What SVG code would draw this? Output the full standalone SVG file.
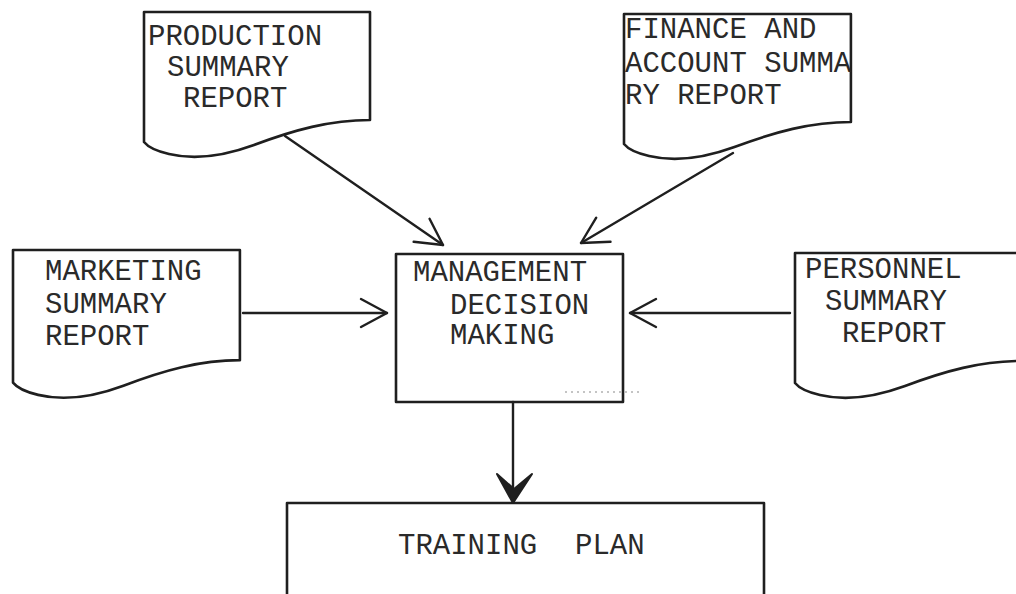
<svg xmlns="http://www.w3.org/2000/svg" width="1016" height="594" viewBox="0 0 1016 594">
  <style>
    .shape { fill: none; stroke: #1f1f1f; stroke-width: 2.6; stroke-linejoin: round; }
    .lbl { font-family: "Liberation Mono", "DejaVu Sans Mono", monospace; font-size: 29px; fill: #2a2a2a; }
    .wire { fill: none; stroke: #1f1f1f; stroke-width: 2.4; stroke-linecap: round; }
  </style>
  <defs>
    <!-- document symbol: flat top, wavy bottom, 226 wide -->
    <path id="doc" d="M0,0 H226 V108 C186,108 150,118 110,133 C80,144 50,148 25,142 C12,139 4,135 0,130 Z"/>
    <marker id="vee" markerUnits="userSpaceOnUse" viewBox="-30 -20 40 40" markerWidth="40" markerHeight="40" refX="0" refY="0" orient="auto" overflow="visible">
      <path d="M-26,-14 L0,0 L-26,14" fill="none" stroke="#1f1f1f" stroke-width="2.4" stroke-linecap="round" stroke-linejoin="round"/>
    </marker>
  </defs>

  <rect width="1016" height="594" fill="#ffffff"/>

  <g id="production">
    <use href="#doc" class="shape" transform="translate(144,12)"/>
    <text class="lbl" x="148" y="45">PRODUCTION</text>
    <text class="lbl" x="167" y="76">SUMMARY</text>
    <text class="lbl" x="183" y="107">REPORT</text>
  </g>

  <g id="finance">
    <use href="#doc" class="shape" transform="translate(624,14) scale(1.004,1)"/>
    <text class="lbl" x="625" y="38">FINANCE AND</text>
    <text class="lbl" x="625" y="72">ACCOUNT SUMMA</text>
    <text class="lbl" x="625" y="104">RY REPORT</text>
  </g>

  <g id="marketing">
    <use href="#doc" class="shape" transform="translate(13,250) scale(1.004,1.02)"/>
    <text class="lbl" x="45" y="280">MARKETING</text>
    <text class="lbl" x="45" y="313">SUMMARY</text>
    <text class="lbl" x="45" y="345">REPORT</text>
  </g>

  <g id="management">
    <rect class="shape" x="396" y="254" width="227" height="148"/>
    <text class="lbl" x="413" y="281">MANAGEMENT</text>
    <text class="lbl" x="450" y="314">DECISION</text>
    <text class="lbl" x="450" y="344">MAKING</text>
    <line x1="565" y1="392" x2="640" y2="392" stroke="#8a8a8a" stroke-width="1.2" stroke-dasharray="2 4"/>
  </g>

  <g id="personnel">
    <use href="#doc" class="shape" transform="translate(795,253)"/>
    <text class="lbl" x="805" y="278">PERSONNEL</text>
    <text class="lbl" x="825" y="310">SUMMARY</text>
    <text class="lbl" x="842" y="342">REPORT</text>
  </g>

  <g id="training">
    <rect class="shape" x="287" y="503" width="477" height="130"/>
    <text class="lbl" x="398" y="554">TRAINING</text>
    <text class="lbl" x="575" y="554">PLAN</text>
  </g>

  <g id="connectors">
    <line class="wire" x1="285" y1="136" x2="443" y2="245" marker-end="url(#vee)"/>
    <line class="wire" x1="733" y1="153" x2="581" y2="243" marker-end="url(#vee)"/>
    <line class="wire" x1="243" y1="313" x2="387" y2="313" marker-end="url(#vee)"/>
    <line class="wire" x1="790" y1="313" x2="630" y2="313" marker-end="url(#vee)"/>
    <line class="wire" x1="513" y1="402" x2="513" y2="496"/>
    <path d="M497,474 L513,503 L532,474 L514,489 Z" fill="#1f1f1f" stroke="#1f1f1f" stroke-width="2" stroke-linejoin="round"/>
  </g>
</svg>
